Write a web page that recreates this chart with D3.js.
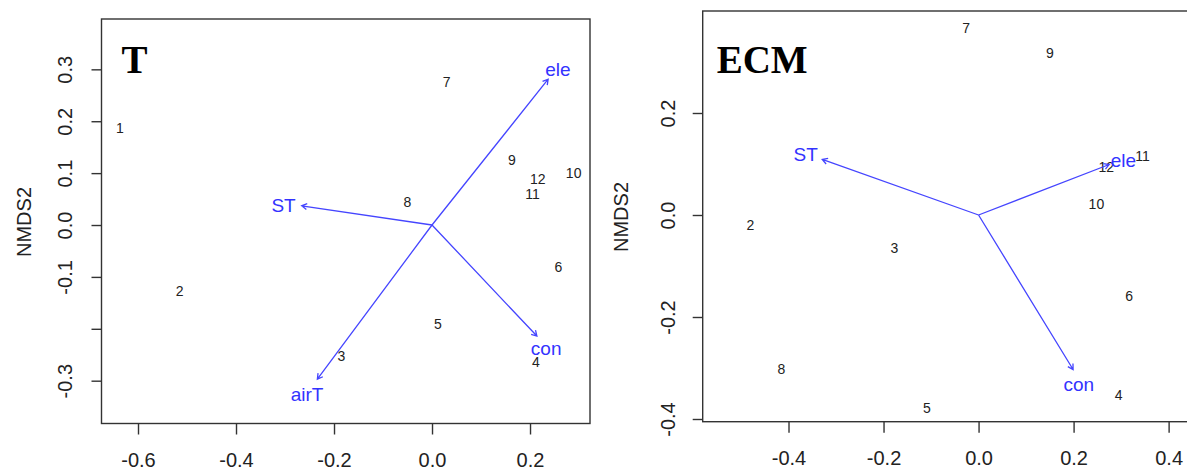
<!DOCTYPE html>
<html>
<head>
<meta charset="utf-8">
<script src="https://cdn.jsdelivr.net/npm/d3@7"></script>
<style>
    body { margin: 0; background: #fff; }
    svg { display: block; }
</style>
</head>
<body>
<svg id="chart" width="1187" height="472"></svg>
<script>
// ---- panel T ----
const tSites = ["1", "2", "3", "4", "5", "6", "7", "8", "9", "10", "11", "12"];
const tSiteX = [-0.637, -0.515, -0.185, 0.212, 0.012, 0.258, 0.030, -0.050, 0.163, 0.289, 0.205, 0.216];
const tSiteY = [0.186, -0.127, -0.252, -0.265, -0.191, -0.082, 0.276, 0.044, 0.125, 0.101, 0.059, 0.089];
const tVectors = ["ele", "ST", "airT", "con"];
const tVecX = [0.237, -0.266, -0.234, 0.214];
const tVecY = [0.281, 0.037, -0.297, -0.214];
const tVecLabX = [0.257, -0.303, -0.255, 0.233];
const tVecLabY = [0.300, 0.0385, -0.326, -0.238];
const tXDomain = [-0.6745, 0.3224];
const tYDomain = [-0.3825, 0.397];
const tXTicks = [-0.6, -0.4, -0.2, 0.0, 0.2];
const tXTickLabels = ["-0.6", "-0.4", "-0.2", "0.0", "0.2"];
const tYTicks = [-0.3, -0.2, -0.1, 0.0, 0.1, 0.2, 0.3];
const tYTickLabels = ["-0.3", "", "-0.1", "0.0", "0.1", "0.2", "0.3"];

// ---- panel ECM ----
const ecmSites = ["2", "3", "4", "5", "6", "7", "8", "9", "10", "11", "12"];
const ecmSiteX = [-0.480, -0.177, 0.295, -0.109, 0.317, -0.026, -0.415, 0.150, 0.248, 0.345, 0.269];
const ecmSiteY = [-0.020, -0.065, -0.353, -0.379, -0.160, 0.366, -0.303, 0.318, 0.021, 0.116, 0.093];
const ecmVectors = ["ST", "ele", "con"];
const ecmVecX = [-0.329, 0.275, 0.199];
const ecmVecY = [0.109, 0.099, -0.303];
const ecmVecLabX = [-0.364, 0.305, 0.211];
const ecmVecLabY = [0.119, 0.108, -0.332];
const ecmXDomain = [-0.5806, 0.445];
const ecmYDomain = [-0.4053, 0.40];
const ecmXTicks = [-0.4, -0.2, 0.0, 0.2, 0.4];
const ecmXTickLabels = ["-0.4", "-0.2", "0.0", "0.2", "0.4"];
const ecmYTicks = [-0.4, -0.2, 0.0, 0.2];
const ecmYTickLabels = ["-0.4", "-0.2", "0.0", "0.2"];

const svg = d3.select("#chart");
const axisColor = "#333";
const vecColor = "#4545ff";

function drawPanel(p) {
    const x = d3.scaleLinear().domain(p.xDomain).range([p.left, p.right]);
    const y = d3.scaleLinear().domain(p.yDomain).range([p.bottom, p.top]);
    const g = svg.append("g");

    // box
    g.append("rect")
        .attr("x", p.left).attr("y", p.top)
        .attr("width", p.right - p.left).attr("height", p.bottom - p.top)
        .attr("fill", "none").attr("stroke", axisColor).attr("stroke-width", 1.4);

    // x axis
    const xAxis = d3.axisBottom(x).tickValues(p.xTicks)
        .tickFormat((d, i) => p.xTickLabels[i]).tickSize(11).tickPadding(18);
    const gx = g.append("g").attr("transform", `translate(0,${p.bottom})`).call(xAxis);
    gx.select(".domain").remove();
    gx.selectAll(".tick line").attr("stroke", axisColor).attr("stroke-width", 1.4);
    gx.selectAll(".tick text").attr("fill", "#222")
        .style("font", "20px 'Liberation Sans', Arial, sans-serif");

    // y axis (labels parallel to the axis, R style)
    const yAxis = d3.axisLeft(y).tickValues(p.yTicks)
        .tickFormat((d, i) => p.yTickLabels[i]).tickSize(10).tickPadding(0);
    const gy = g.append("g").attr("transform", `translate(${p.left},0)`).call(yAxis);
    gy.select(".domain").remove();
    gy.selectAll(".tick line").attr("stroke", axisColor).attr("stroke-width", 1.4);
    gy.selectAll(".tick text")
        .attr("x", null).attr("dy", null)
        .attr("transform", `translate(${-p.yLabelGap},0) rotate(-90)`)
        .attr("text-anchor", "middle")
        .attr("fill", "#222")
        .style("font", "20px 'Liberation Sans', Arial, sans-serif");

    g.append("text")
        .attr("transform", `translate(${p.yTitleX},${p.yTitleY}) rotate(-90)`)
        .attr("text-anchor", "middle")
        .attr("fill", "#222")
        .style("font", "20px 'Liberation Sans', Arial, sans-serif")
        .text("NMDS2");

    // site numbers
    g.append("g").selectAll("text")
        .data(p.sites)
        .join("text")
        .attr("x", (d, i) => x(p.siteX[i]))
        .attr("y", (d, i) => y(p.siteY[i]))
        .attr("text-anchor", "middle")
        .attr("dy", "0.35em")
        .attr("fill", "#222")
        .style("font", "14px 'Liberation Sans', Arial, sans-serif")
        .text(d => d);

    // environmental vectors
    const vec = p.vectors.map((name, i) => ({name, vx: p.vecX[i], vy: p.vecY[i], lx: p.vecLabX[i], ly: p.vecLabY[i]}));
    const x0 = x(0), y0 = y(0);
    g.append("g").selectAll("path")
        .data(vec)
        .join("path")
        .attr("fill", "none")
        .attr("stroke", vecColor)
        .attr("stroke-width", 1.3)
        .attr("d", d => {
            const x1 = x(d.vx), y1 = y(d.vy);
            const a = Math.atan2(y1 - y0, x1 - x0);
            const len = 6, spread = Math.PI / 6;
            const h1 = [x1 - len * Math.cos(a - spread), y1 - len * Math.sin(a - spread)];
            const h2 = [x1 - len * Math.cos(a + spread), y1 - len * Math.sin(a + spread)];
            return `M${x0},${y0}L${x1},${y1}M${h1[0]},${h1[1]}L${x1},${y1}L${h2[0]},${h2[1]}`;
        });

    g.append("g").selectAll("text")
        .data(vec)
        .join("text")
        .attr("x", d => x(d.lx))
        .attr("y", d => y(d.ly))
        .attr("text-anchor", "middle")
        .attr("dy", "0.35em")
        .attr("fill", "#3333ff")
        .style("font", "19px 'Liberation Sans', Arial, sans-serif")
        .text(d => d.name);

    // panel title
    g.append("text")
        .attr("x", p.left + p.titleDx)
        .attr("y", p.top + p.titleDy)
        .attr("fill", "#000")
        .style("font", "bold 39px 'Liberation Serif', 'Times New Roman', serif")
        .text(p.title);
}

drawPanel({
    title: "T", titleDx: 20, titleDy: 54,
    sites: tSites, siteX: tSiteX, siteY: tSiteY,
    vectors: tVectors, vecX: tVecX, vecY: tVecY, vecLabX: tVecLabX, vecLabY: tVecLabY,
    xDomain: tXDomain, yDomain: tYDomain,
    xTicks: tXTicks, xTickLabels: tXTickLabels, yTicks: tYTicks, yTickLabels: tYTickLabels,
    left: 101.5, right: 590, top: 19, bottom: 423.5,
    yLabelGap: 30, yTitleX: 31, yTitleY: 222
});

drawPanel({
    title: "ECM", titleDx: 14, titleDy: 62,
    sites: ecmSites, siteX: ecmSiteX, siteY: ecmSiteY,
    vectors: ecmVectors, vecX: ecmVecX, vecY: ecmVecY, vecLabX: ecmVecLabX, vecLabY: ecmVecLabY,
    xDomain: ecmXDomain, yDomain: ecmYDomain,
    xTicks: ecmXTicks, xTickLabels: ecmXTickLabels, yTicks: ecmYTicks, yTickLabels: ecmYTickLabels,
    left: 702.7, right: 1190, top: 11, bottom: 421.7,
    yLabelGap: 28, yTitleX: 628, yTitleY: 217
});
</script>
</body>
</html>
